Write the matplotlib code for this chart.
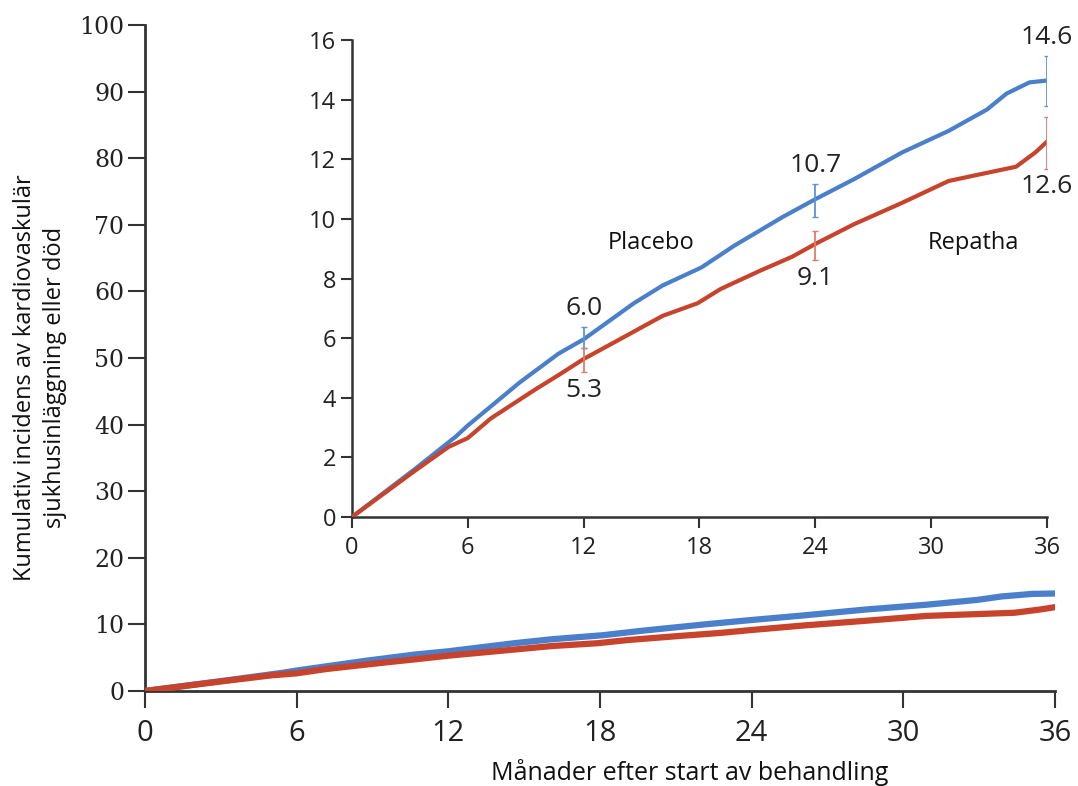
import matplotlib
matplotlib.use("Agg")
import matplotlib.pyplot as plt
from matplotlib import font_manager as fm

# ---------------- data ----------------
months_placebo = [0, 3.3, 5.4, 6.0, 8.7, 10.7, 12.0, 14.6, 16.1, 18.1, 19.8, 22.3, 24.0,
                  26.0, 28.5, 30.9, 32.9, 33.9, 35.1, 36.0]
placebo = [0, 1.63, 2.71, 3.07, 4.52, 5.48, 5.96, 7.17, 7.77, 8.37, 9.10, 10.06, 10.66,
           11.33, 12.23, 12.95, 13.67, 14.2, 14.58, 14.64]
months_repatha = [0, 3.3, 5.0, 6.0, 7.2, 9.5, 10.7, 12.0, 13.7, 16.1, 17.9, 19.1, 21.1, 22.8,
                  24.0, 26.0, 28.5, 30.9, 32.2, 34.4, 35.4, 36.0]
repatha = [0, 1.57, 2.35, 2.65, 3.31, 4.28, 4.76, 5.30, 5.90, 6.75, 7.17, 7.65, 8.25, 8.73,
           9.16, 9.82, 10.54, 11.27, 11.45, 11.75, 12.23, 12.59]

ci_months = [12, 24, 36]
placebo_ci_low = [5.66, 10.08, 13.77]
placebo_ci_high = [6.39, 11.17, 15.48]
repatha_ci_low = [4.88, 8.61, 11.69]
repatha_ci_high = [5.66, 9.60, 13.43]
placebo_labels = ["6.0", "10.7", "14.6"]
repatha_labels = ["5.3", "9.1", "12.6"]

x_ticks = [0, 6, 12, 18, 24, 30, 36]
main_y_ticks = list(range(0, 101, 10))
inset_y_ticks = list(range(0, 17, 2))

xlabel = "Månader efter start av behandling"
ylabel = "Kumulativ incidens av kardiovaskulär\nsjukhusinläggning eller död"

# ---------------- style ----------------
avail = {f.name for f in fm.fontManager.ttflist}
narrow = "Liberation Sans Narrow" if "Liberation Sans Narrow" in avail else "Open Sans"
cond = [narrow, "DejaVu Sans"]
BLUE = "#4a7fcc"
RED = "#c8432b"
BLUE_CI = "#5f93d8"
RED_CI = "#e07b6b"
SPINE = "#333333"

fig = plt.figure(figsize=(10.78, 7.86), dpi=100)

# ---------------- main axes ----------------
ax = fig.add_axes([0.1345, 0.1209, 0.8442, 0.8471])
ax.plot(months_placebo, placebo, color=BLUE, lw=4.5, solid_capstyle="round", zorder=3)
ax.plot(months_repatha, repatha, color=RED, lw=4.5, solid_capstyle="round", zorder=3)
ax.set_xlim(0, 36)
ax.set_ylim(0, 100)
ax.set_xticks(x_ticks)
ax.set_yticks(main_y_ticks)
for s in ["top", "right"]:
    ax.spines[s].set_visible(False)
for s in ["left", "bottom"]:
    ax.spines[s].set_linewidth(2)
    ax.spines[s].set_color(SPINE)
ax.tick_params(axis="both", direction="out", length=12, width=1.5, color=SPINE)
ax.tick_params(axis="x", pad=8)
ax.tick_params(axis="y", pad=3)
for lab in ax.get_yticklabels():
    lab.set_fontfamily("DejaVu Serif")
    lab.set_fontsize(17)
    lab.set_color("#222222")
for lab in ax.get_xticklabels():
    lab.set_fontfamily(cond)
    lab.set_fontsize(21)
    lab.set_color("#222222")
fig.text(0.64, 0.017, xlabel, ha="center", va="center", fontsize=18,
         family=cond, color="#111111")
fig.text(0.037, 0.52, ylabel, ha="center", va="center", rotation=90, fontsize=17,
         family=cond, color="#111111", linespacing=1.3)

# ---------------- inset ----------------
ins = fig.add_axes([0.3265, 0.3422, 0.6447, 0.6069])
ins.set_facecolor("white")
ins.plot(months_placebo, placebo, color=BLUE, lw=3, zorder=3)
ins.plot(months_repatha, repatha, color=RED, lw=3, zorder=3)
for m, lo, hi in zip(ci_months, placebo_ci_low, placebo_ci_high):
    ins.errorbar([m], [(lo + hi) / 2], yerr=[[(hi - lo) / 2], [(hi - lo) / 2]],
                 fmt="none", ecolor=BLUE_CI, elinewidth=1.3, capsize=2, zorder=4)
for m, lo, hi in zip(ci_months, repatha_ci_low, repatha_ci_high):
    ins.errorbar([m], [(lo + hi) / 2], yerr=[[(hi - lo) / 2], [(hi - lo) / 2]],
                 fmt="none", ecolor=RED_CI, elinewidth=1.3, capsize=2, zorder=4)
for m, hi, t in zip(ci_months, placebo_ci_high, placebo_labels):
    ins.text(m, hi + 0.2, t, ha="center", va="bottom", fontsize=19, family=cond,
             color="#222222")
for m, lo, t in zip(ci_months, repatha_ci_low, repatha_labels):
    ins.text(m, lo - 0.2, t, ha="center", va="top", fontsize=19, family=cond,
             color="#222222")
ins.text(15.5, 9.2, "Placebo", ha="center", va="center", fontsize=17, family=cond,
         color="#111111")
ins.text(32.2, 9.2, "Repatha", ha="center", va="center", fontsize=17, family=cond,
         color="#111111")
ins.set_xlim(0, 36)
ins.set_ylim(0, 16)
ins.set_xticks(x_ticks)
ins.set_yticks(inset_y_ticks)
for s in ["top", "right"]:
    ins.spines[s].set_visible(False)
for s in ["left", "bottom"]:
    ins.spines[s].set_linewidth(1.8)
    ins.spines[s].set_color(SPINE)
ins.tick_params(axis="both", direction="out", length=8, width=1.5, color=SPINE,
                labelsize=17, labelcolor="#222222")
ins.tick_params(axis="x", pad=6)
for lab in ins.get_xticklabels() + ins.get_yticklabels():
    lab.set_fontfamily(cond)

fig.savefig("out.png", dpi=100, facecolor="white")
